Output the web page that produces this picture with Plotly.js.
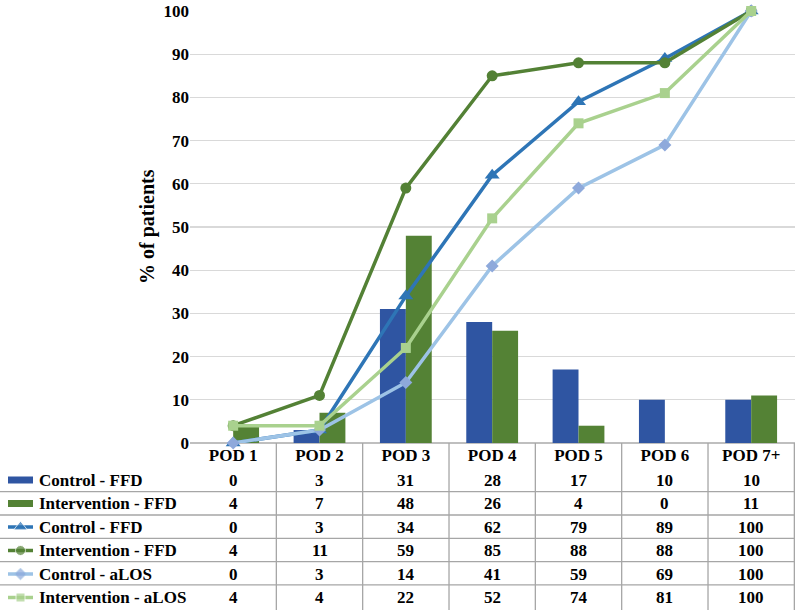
<!DOCTYPE html>
<html>
<head>
<meta charset="utf-8">
<script src="https://cdn.plot.ly/plotly-3.0.1.min.js"></script>
<style>
  html, body { margin: 0; padding: 0; background: #fff; }
  #chart { width: 800px; height: 615px; }
</style>
</head>
<body>
<div id="chart"></div>
<script>
// ── Data ──
const pods = ["POD 1", "POD 2", "POD 3", "POD 4", "POD 5", "POD 6", "POD 7+"];

const ctrlFfdBar  = [0, 3, 31, 28, 17, 10, 10];
const intFfdBar   = [4, 7, 48, 26, 4, 0, 11];
const ctrlFfdCum  = [0, 3, 34, 62, 79, 89, 100];
const intFfdCum   = [4, 11, 59, 85, 88, 88, 100];
const ctrlAlosCum = [0, 3, 14, 41, 59, 69, 100];
const intAlosCum  = [4, 4, 22, 52, 74, 81, 100];

const rowNames = ["Control - FFD", "Intervention - FFD", "Control - FFD",
                  "Intervention - FFD", "Control - aLOS", "Intervention - aLOS"];
const rowData  = [ctrlFfdBar, intFfdBar, ctrlFfdCum, intFfdCum, ctrlAlosCum, intAlosCum];

// ── Styles ──
const W = 800, H = 615;
const FONT = "Liberation Serif";
const plotLeft = 190, plotRight = 795, plotTop = 11, plotBottom = 443;

const rowStyle = [
    { kind: "bar",  color: "#2F55A2" },
    { kind: "bar",  color: "#548235" },
    { kind: "line", color: "#2E75B6", mcolor: "#2E75B6", symbol: "triangle-up", size: 13 },
    { kind: "line", color: "#538135", mcolor: "#538135", symbol: "circle", size: 11 },
    { kind: "line", color: "#9DC3E6", mcolor: "#8EA9DB", symbol: "diamond", size: 10 },
    { kind: "line", color: "#A9D18E", mcolor: "#A9D18E", symbol: "square", size: 10 }
];

const px = x => x / W;
const py = y => (H - y) / H;

const rowY = i => 480 + 23.5 * i;
const bold = (size) => ({ family: FONT, size: size, color: "#000", weight: "bold" });

// ── Traces ──
const traces = [];
rowData.forEach((vals, i) => {
    const st = rowStyle[i];
    if (st.kind === "bar") {
        traces.push({
            type: "bar", x: pods, y: vals, name: rowNames[i],
            marker: { color: st.color }
        });
    } else {
        traces.push({
            type: "scatter", mode: "lines+markers", x: pods, y: vals, name: rowNames[i],
            line: { color: st.color, width: 3.5 },
            marker: { color: st.mcolor, symbol: st.symbol, size: st.size },
            cliponaxis: false
        });
    }
});

// legend keys in the table, drawn on a small pixel-scaled axis pair left of the values
const shapes = [];
rowStyle.forEach((st, i) => {
    const y = rowY(i);
    if (st.kind === "bar") {
        shapes.push({ type: "rect", xref: "x2", yref: "y2", x0: 8, x1: 33, y0: y - 3.5, y1: y + 3.5,
                      fillcolor: st.color, line: { width: 0 } });
    } else {
        traces.push({
            type: "scatter", mode: "lines+markers", xaxis: "x2", yaxis: "y2",
            x: [8, 20.5, 33], y: [y, y, y], hoverinfo: "skip", showlegend: false,
            line: { color: st.color, width: 3.5 },
            marker: { color: st.mcolor, symbol: st.symbol, size: [0, st.size - 1, 0] },
            cliponaxis: false
        });
    }
});

// ── Table lines ──
const gridGray = "#A6A6A6";
for (let k = 0; k < pods.length; k++) {
    shapes.push({ type: "line", xref: "x", yref: "paper", x0: k + 0.5, x1: k + 0.5,
                  y0: py(610), y1: py(plotBottom), line: { color: gridGray, width: 1.3 } });
}
for (let r = 0; r < rowNames.length - 1; r++) {
    const y = 491.7 + 23.3 * r;
    shapes.push({ type: "line", xref: "paper", yref: "paper", x0: 0, x1: px(plotRight),
                  y0: py(y), y1: py(y), line: { color: gridGray, width: 1.3 } });
}

// ── Table text ──
const annotations = [];
rowNames.forEach((name, i) => {
    annotations.push({ xref: "paper", yref: "paper", x: px(37), y: py(rowY(i)),
                       xanchor: "left", yanchor: "middle", showarrow: false, text: name,
                       font: bold(17) });
    rowData[i].forEach((v, k) => {
        annotations.push({ xref: "x", yref: "paper", x: pods[k], y: py(rowY(i)),
                           xanchor: "center", yanchor: "middle", showarrow: false, text: String(v),
                           font: bold(17) });
    });
});
annotations.push({ xref: "paper", yref: "paper", x: px(147), y: py(227), textangle: -90,
                   xanchor: "center", yanchor: "middle",
                   showarrow: false, text: "% of patients", font: bold(20) });

const layout = {
    width: W, height: H,
    margin: { l: 0, r: 0, t: 0, b: 0 },
    paper_bgcolor: "#fff", plot_bgcolor: "#fff",
    showlegend: false,
    barmode: "group", bargap: 0.4, bargroupgap: 0,
    font: { family: FONT, color: "#000" },
    xaxis: {
        domain: [px(plotLeft), px(plotRight)],
        type: "category", showgrid: false, zeroline: false, showline: false,
        ticks: "", tickfont: bold(17), automargin: false, fixedrange: true
    },
    yaxis: {
        domain: [py(plotBottom), py(plotTop)],
        range: [0, 100], dtick: 10, showgrid: true, gridcolor: "#D9D9D9", gridwidth: 1.3,
        zeroline: true, zerolinecolor: "#BFBFBF", zerolinewidth: 1.3, showline: false,
        ticks: "", tickfont: bold(17), automargin: false, fixedrange: true
    },
    xaxis2: { domain: [0, px(40)], range: [0, 40], visible: false, anchor: "y2", fixedrange: true },
    yaxis2: { domain: [0, py(plotBottom + 1)], range: [H, plotBottom + 1], visible: false, anchor: "x2", fixedrange: true },
    shapes: shapes,
    annotations: annotations
};

Plotly.newPlot("chart", traces, layout, { displayModeBar: false, staticPlot: true });
</script>
</body>
</html>
